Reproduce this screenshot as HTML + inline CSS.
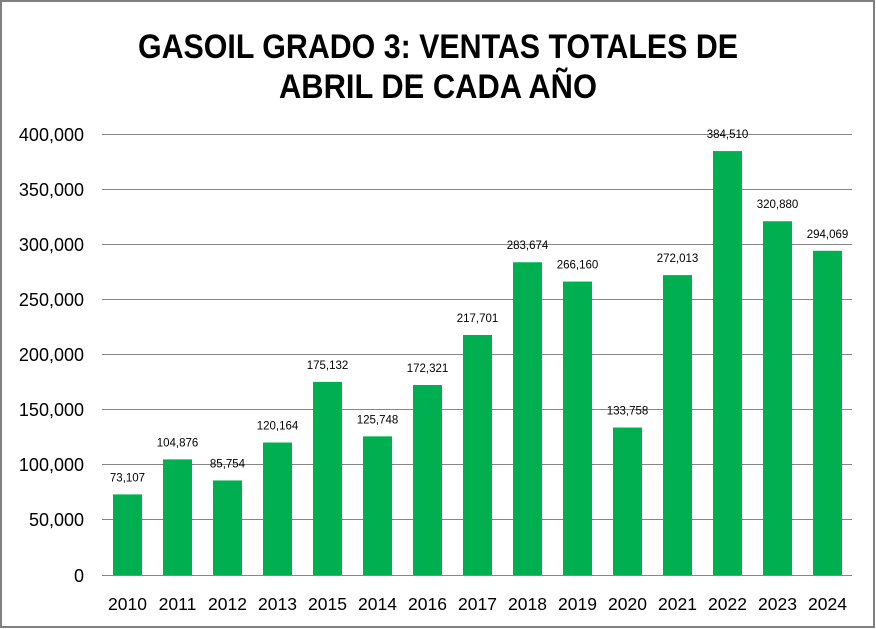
<!DOCTYPE html>
<html><head><meta charset="utf-8"><style>
html,body{margin:0;padding:0;background:#fff;}
svg{display:block;}
</style></head><body>
<svg width="876" height="629" viewBox="0 0 876 629" xmlns="http://www.w3.org/2000/svg" font-family="Liberation Sans, sans-serif">
<rect x="1" y="1" width="873" height="626" fill="#fff" stroke="#808080" stroke-width="2"/>
<text x="438" y="58" text-anchor="middle" font-size="34" font-weight="bold" textLength="600" lengthAdjust="spacingAndGlyphs">GASOIL GRADO 3: VENTAS TOTALES DE</text>
<text x="438" y="98" text-anchor="middle" font-size="34" font-weight="bold" textLength="318" lengthAdjust="spacingAndGlyphs">ABRIL DE CADA AÑO</text>
<g stroke="#868686" stroke-width="1">
<line x1="102" x2="852" y1="134.5" y2="134.5"/>
<line x1="102" x2="852" y1="189.5" y2="189.5"/>
<line x1="102" x2="852" y1="244.5" y2="244.5"/>
<line x1="102" x2="852" y1="299.5" y2="299.5"/>
<line x1="102" x2="852" y1="354.5" y2="354.5"/>
<line x1="102" x2="852" y1="409.5" y2="409.5"/>
<line x1="102" x2="852" y1="464.5" y2="464.5"/>
<line x1="102" x2="852" y1="519.5" y2="519.5"/>
<line x1="102" x2="852" y1="575.5" y2="575.5"/>
</g>
<g font-size="18" text-anchor="end" fill="#000">
<text x="84" y="141">400,000</text>
<text x="84" y="196">350,000</text>
<text x="84" y="251">300,000</text>
<text x="84" y="306">250,000</text>
<text x="84" y="361">200,000</text>
<text x="84" y="416">150,000</text>
<text x="84" y="471">100,000</text>
<text x="84" y="526">50,000</text>
<text x="84" y="582">0</text>
</g>
<g id="bars" fill="#00B050"></g>
<g id="lbl" font-size="11.5" text-anchor="middle"></g>
<g id="yrs" font-size="17.5" text-anchor="middle"></g>
<script>
var d=[["2010",73107],["2011",104876],["2012",85754],["2013",120164],["2015",175132],["2014",125748],["2016",172321],["2017",217701],["2018",283674],["2019",266160],["2020",133758],["2021",272013],["2022",384510],["2023",320880],["2024",294069]];
var ns="http://www.w3.org/2000/svg",b=document.getElementById("bars"),l=document.getElementById("lbl"),y=document.getElementById("yrs");
d.forEach(function(e,i){var cx=127.5+i*50,h=e[1]*441/400000,top=575-h;
var r=document.createElementNS(ns,"rect");r.setAttribute("x",cx-14.5);r.setAttribute("y",top);r.setAttribute("width",29);r.setAttribute("height",h);b.appendChild(r);
var t=document.createElementNS(ns,"text");t.setAttribute("x",cx);t.setAttribute("y",top-13);t.textContent=e[1].toLocaleString("en-US");l.appendChild(t);
var u=document.createElementNS(ns,"text");u.setAttribute("x",cx);u.setAttribute("y",610);u.textContent=e[0];y.appendChild(u);});
</script>
</svg>
</body></html>
